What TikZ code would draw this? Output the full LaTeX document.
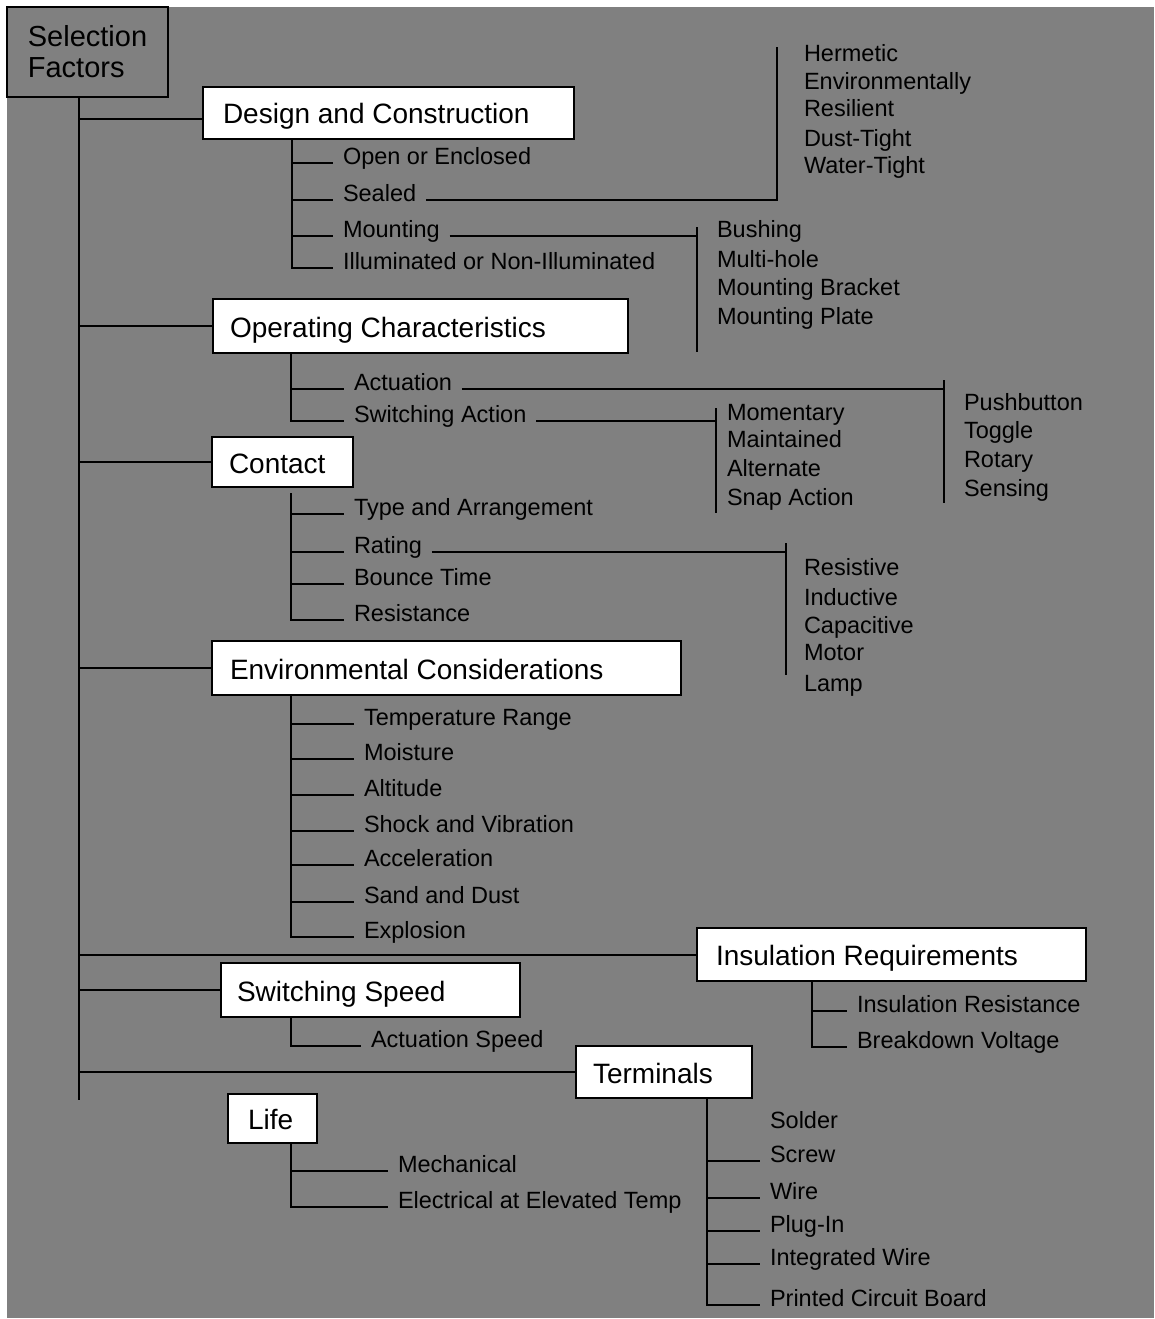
\documentclass[tikz,border=0pt]{standalone}
\usepackage{fontspec}
\setmainfont{Liberation Sans}
\definecolor{bggray}{RGB}{128,128,128}
\newcommand{\catfont}{\fontsize{28}{31}\selectfont}
\newcommand{\leaffont}{\fontsize{23.5}{28}\selectfont}

\begin{document}
\begin{tikzpicture}[x=1pt,y=-1pt,line width=2pt,
    cat/.style={draw,fill=white,anchor=north west,font=\catfont,
      text height=22pt,text depth=0pt,inner ysep=0pt,outer sep=0pt},
    leaf/.style={anchor=west,inner xsep=9pt,inner ysep=0pt,font=\leaffont,
      text height=7pt,text depth=4.5pt}]
  \useasboundingbox (0,0) rectangle (1154,1319);
  \fill[white] (0,0) rectangle (1154,1319);
  \fill[bggray] (7,7) rectangle (1154,1318);

  % root and trunk
  \node[draw,anchor=north west,align=left,font={\fontsize{29}{31}\selectfont},
    minimum width=161pt,minimum height=90pt,inner sep=0pt,outer sep=0pt] (sel) at (7,7) {Selection\\Factors};
  \coordinate (trunk) at (79,97);
  \coordinate (trunkend) at (79,1100);
  \draw (trunk) -- (trunkend);

  % design and construction
  \node[cat,inner xsep=20pt,minimum height=52pt] (design) at (203,87) {\makebox[331pt][l]{Design and Construction}};
  \coordinate (dsub) at (292,139);
  \node[leaf] (open) at (333,163) {Open or Enclosed};
  \node[leaf] (sealed) at (333,200) {Sealed};
  \node[leaf] (mount) at (333,236) {Mounting};
  \node[leaf] (illum) at (333,268) {Illuminated or Non-Illuminated};
  \draw (dsub) |- (illum.west);
  \foreach \n in {open,sealed,mount} \draw (dsub |- \n.west) -- (\n.west);

  \coordinate (sealtop) at (777,47);
  \draw (sealed.east) -| (sealtop);
  \foreach \n/\y/\t in {herm/60/Hermetic, envir/88/Environmentally, resil/115/Resilient, dust/145/Dust-Tight, water/172/Water-Tight}
    \node[leaf] (\n) at (794,\y) {\t};

  \coordinate (mnttop) at (697,227);
  \coordinate (mntbot) at (697,352);
  \draw (mnttop) -- (mntbot);
  \draw (mount.east) -- (mount.east -| mnttop);
  \foreach \n/\y/\t in {bush/236/Bushing, multi/266/Multi-hole, brack/294/Mounting Bracket, plate/323/Mounting Plate}
    \node[leaf] (\n) at (707,\y) {\t};

  % operating characteristics
  \node[cat,inner xsep=17pt,minimum height=54pt] (oper) at (213,299) {\makebox[381pt][l]{Operating Characteristics}};
  \coordinate (osub) at (291,353);
  \node[leaf] (actu) at (344,389) {Actuation};
  \node[leaf] (swact) at (344,421) {Switching Action};
  \draw (osub) |- (swact.west);
  \draw (osub |- actu.west) -- (actu.west);

  \coordinate (acttop) at (944,380);
  \coordinate (actbot) at (944,503);
  \draw (acttop) -- (actbot);
  \draw (actu.east) -- (actu.east -| acttop);
  \foreach \n/\y/\t in {push/409/Pushbutton, toggle/437/Toggle, rotary/466/Rotary, sensing/495/Sensing}
    \node[leaf] (\n) at (954,\y) {\t};

  \coordinate (swtop) at (716,408);
  \coordinate (swbot) at (716,513);
  \draw (swtop) -- (swbot);
  \draw (swact.east) -- (swact.east -| swtop);
  \foreach \n/\y/\t in {moment/419/Momentary, maint/446/Maintained, altern/475/Alternate, snap/504/Snap Action}
    \node[leaf] (\n) at (717,\y) {\t};

  % contact
  \node[cat,inner xsep=17pt,minimum height=50pt] (contact) at (212,437) {\makebox[107pt][l]{Contact}};
  \coordinate (csub) at (291,493);
  \node[leaf] (type) at (344,514) {Type and Arrangement};
  \node[leaf] (rating) at (344,552) {Rating};
  \node[leaf] (bounce) at (344,584) {Bounce Time};
  \node[leaf] (resist) at (344,620) {Resistance};
  \draw (csub) |- (resist.west);
  \foreach \n in {type,rating,bounce} \draw (csub |- \n.west) -- (\n.west);

  \coordinate (ratetop) at (786,543);
  \coordinate (ratebot) at (786,675);
  \draw (ratetop) -- (ratebot);
  \draw (rating.east) -- (rating.east -| ratetop);
  \foreach \n/\y/\t in {resistive/574/Resistive, inductive/604/Inductive, capacitive/632/Capacitive, motor/659/Motor, lamp/690/Lamp}
    \node[leaf] (\n) at (794,\y) {\t};

  % environmental considerations
  \node[cat,inner xsep=18pt,minimum height=54pt] (env) at (212,641) {\makebox[433pt][l]{Environmental Considerations}};
  \coordinate (esub) at (291,695);
  \foreach \n/\y/\t in {temp/724/Temperature Range, moist/759/Moisture, alt/795/Altitude, shock/831/Shock and Vibration, accel/865/Acceleration, sand/902/Sand and Dust, expl/937/Explosion}
    \node[leaf] (\n) at (354,\y) {\t};
  \draw (esub) |- (expl.west);
  \foreach \n in {temp,moist,alt,shock,accel,sand} \draw (esub |- \n.west) -- (\n.west);

  % insulation requirements
  \node[cat,inner xsep=19pt,minimum height=53pt] (insul) at (697,928) {\makebox[351pt][l]{Insulation Requirements}};
  \coordinate (isub) at (812,981);
  \node[leaf] (insres) at (847,1011) {Insulation Resistance};
  \node[leaf] (brkdn) at (847,1047) {Breakdown Voltage};
  \draw (isub) |- (brkdn.west);
  \draw (isub |- insres.west) -- (insres.west);

  % switching speed
  \node[cat,inner xsep=16pt,minimum height=54pt] (swspd) at (221,963) {\makebox[267pt][l]{Switching Speed}};
  \coordinate (ssub) at (291,1017);
  \node[leaf] (actspd) at (361,1046) {Actuation Speed};
  \draw (ssub) |- (actspd.west);

  % terminals
  \node[cat,inner xsep=17pt,minimum height=52pt] (term) at (576,1046) {\makebox[142pt][l]{Terminals}};
  \coordinate (tsub) at (707,1098);
  \foreach \n/\y/\t in {solder/1127/Solder, screw/1161/Screw, wire/1198/Wire, plug/1231/Plug-In, integ/1264/Integrated Wire, pcb/1305/Printed Circuit Board}
    \node[leaf] (\n) at (760,\y) {\t};
  \draw (tsub) |- (pcb.west);
  \foreach \n in {screw,wire,plug,integ} \draw (tsub |- \n.west) -- (\n.west);

  % life
  \node[cat,inner xsep=20pt,minimum height=49pt] (life) at (228,1094) {\makebox[49pt][l]{Life}};
  \coordinate (lsub) at (291,1143);
  \node[leaf] (mech) at (388,1171) {Mechanical};
  \node[leaf] (elec) at (388,1207) {Electrical at Elevated Temp};
  \draw (lsub) |- (elec.west);
  \draw (lsub |- mech.west) -- (mech.west);

  % branches off the trunk
  \draw ([yshift=-6pt]design.west) -- ([yshift=-6pt]design.west -| trunk);
  \foreach \n in {oper,contact,env,insul,swspd,term} \draw (trunk |- \n.west) -- (\n.west);
\end{tikzpicture}
\end{document}
